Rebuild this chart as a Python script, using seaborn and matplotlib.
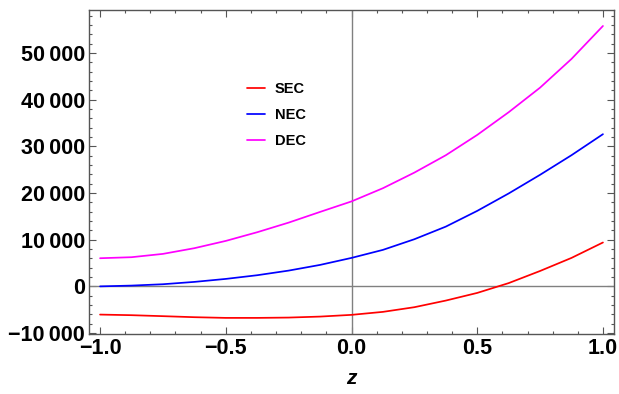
import numpy as np
import pandas as pd
import matplotlib
matplotlib.use("Agg")
import matplotlib.pyplot as plt
from matplotlib.ticker import FixedLocator, MultipleLocator, FuncFormatter
import seaborn as sns

z = [-1, -0.875, -0.75, -0.625, -0.5, -0.375, -0.25, -0.125, 0,
     0.125, 0.25, 0.375, 0.5, 0.625, 0.75, 0.875, 1]
SEC = [-6040, -6170, -6380, -6600, -6750, -6750, -6680, -6470, -6100,
       -5460, -4460, -3040, -1400, 700, 3300, 6100, 9400]
NEC = [0, 170, 460, 960, 1600, 2390, 3380, 4600, 6100,
       7820, 10100, 12800, 16170, 19900, 23900, 28100, 32600]
DEC = [6030, 6250, 6960, 8180, 9740, 11600, 13660, 15950, 18200,
       21030, 24370, 28090, 32440, 37300, 42570, 48720, 55780]
series_names = ["SEC", "NEC", "DEC"]
series_colors = ["#ff0000", "#0000ff", "#ff00ff"]
x_ticks = [-1.0, -0.5, 0.0, 0.5, 1.0]
y_ticks = [-10000, 0, 10000, 20000, 30000, 40000, 50000]

df = pd.DataFrame({"z": z * 3,
                   "value": SEC + NEC + DEC,
                   "condition": sum([[n] * len(z) for n in series_names], [])})

sns.set_style("ticks")
plt.rcParams['font.family'] = ['Liberation Sans', 'DejaVu Sans']
plt.rcParams['text.color'] = 'black'
plt.rcParams['axes.labelcolor'] = 'black'
plt.rcParams['xtick.labelcolor'] = 'black'
plt.rcParams['ytick.labelcolor'] = 'black'

fig = plt.figure(figsize=(6.19, 3.94), dpi=100)
ax = fig.add_axes([89/619, 60/394, (614-89)/619, (334-10)/394])

ax.axhline(0, color="#808080", lw=1.0, zorder=1)
ax.axvline(0, color="#808080", lw=1.0, zorder=1)

sns.lineplot(data=df, x="z", y="value", hue="condition", hue_order=series_names,
             palette=series_colors, linewidth=1.25, ax=ax, zorder=3)

ax.set_xlim(-1.044, 1.044)
ax.set_ylim(-10200, 59200)

ax.xaxis.set_major_locator(FixedLocator(x_ticks))
ax.xaxis.set_minor_locator(MultipleLocator(0.1))
ax.yaxis.set_major_locator(FixedLocator(y_ticks))
ax.yaxis.set_minor_locator(MultipleLocator(2000))

def yfmt(v, pos):
    v = int(round(v))
    if v == 0:
        return "0"
    s = f"{abs(v):,}".replace(",", "\u2009")
    return ("\u2212" if v < 0 else "") + s

def xfmt(v, pos):
    s = f"{abs(v):.1f}"
    return ("\u2212" if v < -1e-9 else "") + s

ax.yaxis.set_major_formatter(FuncFormatter(yfmt))
ax.xaxis.set_major_formatter(FuncFormatter(xfmt))

ax.tick_params(which="both", direction="in", top=True, right=True,
               color="#555555", width=0.8)
ax.tick_params(which="major", length=5, labelsize=15.5, pad=3)
ax.tick_params(which="minor", length=2.5)
for lab in ax.get_xticklabels() + ax.get_yticklabels():
    lab.set_fontweight("bold")
    lab.set_color("black")

for sp in ax.spines.values():
    sp.set_color("#555555")
    sp.set_linewidth(1.0)

ax.set_xlabel("z", fontsize=15, fontweight="bold", fontstyle="italic",
              labelpad=7, color="black")
ax.set_ylabel("")

leg = ax.legend(loc="center left", bbox_to_anchor=(0.276, 0.676), frameon=False,
                fontsize=10.5, handlelength=1.25, handletextpad=0.65,
                labelspacing=0.8)
for t in leg.get_texts():
    t.set_fontweight("bold")
    t.set_color("black")

fig.savefig("out.png", dpi=100)
